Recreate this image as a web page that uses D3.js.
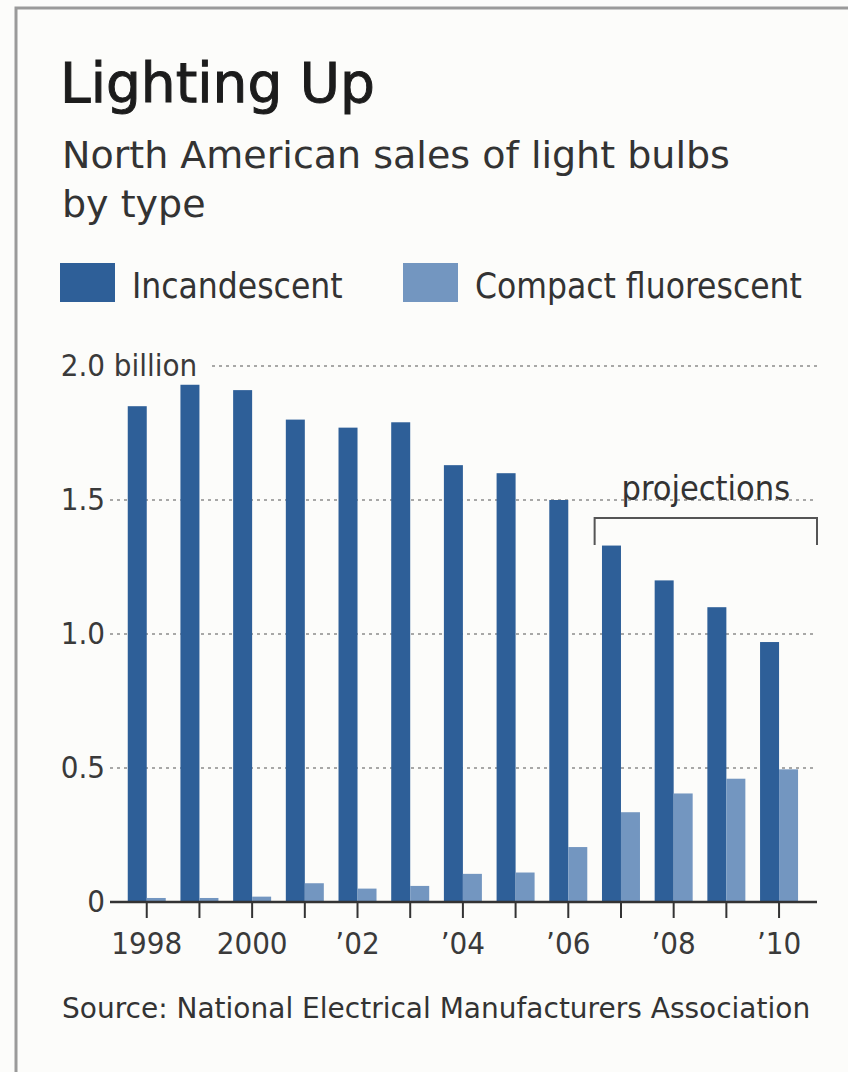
<!DOCTYPE html>
<html lang="en">
  <head>
    <meta charset="UTF-8" />
    <title>Lighting Up</title>
    <script src="https://d3js.org/d3.v7.min.js"></script>
    <style>
      body { margin: 0; background: #fcfcfa; }
      text { font-family: 'DejaVu Sans', sans-serif; fill: #333; }
      .cond { font-family: 'DejaVu Sans Condensed', 'DejaVu Sans', sans-serif; font-stretch: condensed; }
    </style>
  </head>
  <body>
    <div id="chart"></div>
    <script>
      // values (billions of bulbs)
      const years = [1998, 1999, 2000, 2001, 2002, 2003, 2004, 2005, 2006, 2007, 2008, 2009, 2010]
      const incandescent = [1.85, 1.93, 1.91, 1.80, 1.77, 1.79, 1.63, 1.60, 1.50, 1.33, 1.20, 1.10, 0.97]
      const compactFluorescent = [0.015, 0.015, 0.02, 0.07, 0.05, 0.06, 0.105, 0.11, 0.205, 0.335, 0.405, 0.46, 0.495]
      const seriesNames = ['Incandescent', 'Compact fluorescent']
      const seriesColors = ['#2e5f98', '#7396c0']
      const yTicks = [0, 0.5, 1.0, 1.5, 2.0]
      const yTickLabels = ['0', '0.5', '1.0', '1.5', '2.0']
      const xLabelYears = [1998, 2000, 2002, 2004, 2006, 2008, 2010]
      const xTickLabels = ['1998', '2000', '\u201902', '\u201904', '\u201906', '\u201908', '\u201910']
      const projectionYears = [2007, 2010]

      const width = 848
      const height = 1072
      const plotLeft = 110
      const plotRight = 817
      const plotTop = 366
      const plotBottom = 902
      const barWidth = 19

      const rows = years.map((yr, i) => ({ year: yr, values: [incandescent[i], compactFluorescent[i]] }))

      const svg = d3
        .select('#chart')
        .append('svg')
        .attr('width', width)
        .attr('height', height)

      // frame
      svg.append('path')
        .attr('d', `M16,${height} L16,8 L${width},8`)
        .attr('fill', 'none')
        .attr('stroke', '#9a9a9a')
        .attr('stroke-width', 3)

      // titles
      svg.append('text')
        .attr('x', 60).attr('y', 102)
        .style('font-size', '55px')
        .style('fill', '#1c1c1c')
        .style('stroke', '#1c1c1c')
        .style('stroke-width', 1)
        .text('Lighting Up')

      svg.append('text')
        .attr('x', 62).attr('y', 168)
        .style('font-size', '38px')
        .text('North American sales of light bulbs')
      svg.append('text')
        .attr('x', 62).attr('y', 217)
        .style('font-size', '38px')
        .text('by type')

      // legend
      const legendX = [60, 403]
      const legend = svg.selectAll('.legend')
        .data(seriesNames)
        .enter()
        .append('g')
        .attr('class', 'legend')
        .attr('transform', (d, i) => `translate(${legendX[i]},263)`)
      legend.append('rect')
        .attr('width', 55).attr('height', 39)
        .attr('fill', (d, i) => seriesColors[i])
      legend.append('text')
        .attr('class', 'cond')
        .attr('x', 72).attr('y', 35)
        .style('font-size', '35px')
        .text(d => d)

      // scales
      const x = d3.scaleBand()
        .domain(years)
        .range([120.4, 805.4])
      const xInner = d3.scaleBand()
        .domain(seriesNames)
        .range([x.bandwidth() / 2 - barWidth, x.bandwidth() / 2 + barWidth])
      const y = d3.scaleLinear()
        .domain([0, 2])
        .range([plotBottom, plotTop])

      // dotted gridlines
      svg.append('g')
        .selectAll('line')
        .data(yTicks.filter(v => v > 0))
        .enter()
        .append('line')
        .attr('x1', d => (d === 2 ? 212 : plotLeft))
        .attr('x2', plotRight)
        .attr('y1', d => y(d))
        .attr('y2', d => y(d))
        .attr('stroke', '#8c8c8c')
        .attr('stroke-width', 1.6)
        .attr('stroke-dasharray', '3,4')

      // y axis labels
      const yAxis = svg.append('g')
        .attr('class', 'cond')
        .attr('transform', `translate(${plotLeft - 5},0)`)
        .call(d3.axisLeft(y).tickValues(yTicks).tickSize(0).tickPadding(0)
          .tickFormat((d, i) => yTickLabels[i]))
      yAxis.select('.domain').remove()
      yAxis.selectAll('text')
        .style('font-size', '31px')
        .style('font-family', "'DejaVu Sans Condensed', 'DejaVu Sans', sans-serif")
        .style('fill', '#3a3a3a')
      yAxis.selectAll('.tick')
        .filter(d => d === 2)
        .select('text')
        .append('tspan')
        .text('\u00a0billion')
      // keep "2.0" aligned with the other numbers, let "billion" run right
      yAxis.selectAll('.tick').filter(d => d === 2).each(function () {
        const t = d3.select(this).select('text')
        const num = t.node().getSubStringLength(0, 3)
        t.attr('text-anchor', 'start').attr('x', -num)
      })

      // bars
      const groups = svg.append('g')
        .selectAll('g')
        .data(rows)
        .enter()
        .append('g')
        .attr('transform', d => `translate(${x(d.year)},0)`)
      groups.selectAll('rect')
        .data(d => d.values.map((v, i) => ({ key: seriesNames[i], value: v, color: seriesColors[i] })))
        .enter()
        .append('rect')
        .attr('x', d => xInner(d.key))
        .attr('width', xInner.bandwidth())
        .attr('y', d => y(d.value))
        .attr('height', d => y(0) - y(d.value))
        .attr('fill', d => d.color)

      // x axis
      const xAxis = svg.append('g')
        .attr('transform', `translate(0,${plotBottom})`)
        .call(d3.axisBottom(x).tickSize(16).tickPadding(14)
          .tickFormat(d => {
            const k = xLabelYears.indexOf(d)
            return k >= 0 ? xTickLabels[k] : ''
          }))
      xAxis.select('.domain')
        .attr('d', `M${plotLeft},0H${plotRight}`)
        .attr('stroke', '#333')
        .attr('stroke-width', 2.5)
      xAxis.selectAll('.tick line')
        .attr('stroke', '#333')
        .attr('stroke-width', 2)
      xAxis.selectAll('text')
        .style('font-size', '31px')
        .style('font-family', "'DejaVu Sans Condensed', 'DejaVu Sans', sans-serif")
        .style('fill', '#3a3a3a')

      // projections bracket
      const bx0 = x(projectionYears[0])
      const bx1 = plotRight
      const by = 518
      svg.append('path')
        .attr('d', `M${bx0},545 V${by} H${bx1} V545`)
        .attr('fill', 'none')
        .attr('stroke', '#555')
        .attr('stroke-width', 2)
      svg.append('text')
        .attr('class', 'cond')
        .attr('x', (bx0 + bx1) / 2)
        .attr('y', 500)
        .attr('text-anchor', 'middle')
        .style('font-size', '34px')
        .text('projections')

      // source
      svg.append('text')
        .attr('x', 62).attr('y', 1018)
        .style('font-size', '28px')
        .text('Source: National Electrical Manufacturers Association')
    </script>
  </body>
</html>
